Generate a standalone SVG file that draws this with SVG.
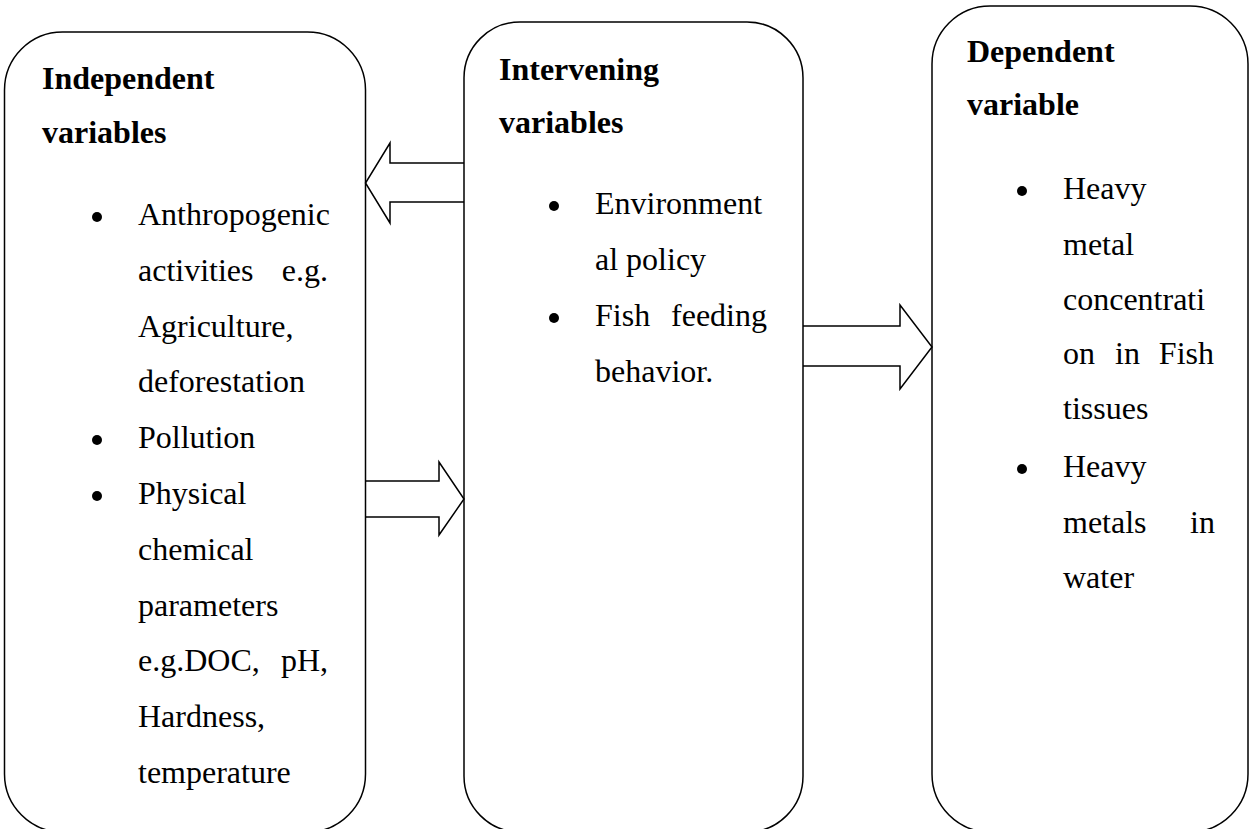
<svg xmlns="http://www.w3.org/2000/svg" width="1249" height="829" viewBox="0 0 1249 829">
<style>
.box{fill:none;stroke:#000;stroke-width:1.5}
.arr{fill:#fff;stroke:#000;stroke-width:1.5;stroke-linejoin:miter}
.h{font-family:"Liberation Serif","Times New Roman",serif;font-weight:bold;font-size:32px;fill:#000}
.t{font-family:"Liberation Serif","Times New Roman",serif;font-size:32px;fill:#000}
.e{text-anchor:end}
.b{fill:#000}
</style>
<rect width="1249" height="829" fill="#fff"/>
<g id="connectors">
<path class="arr" d="M464,163 L390,163 L390,143 L365.5,183 L390,223 L390,202 L464,202"/>
<path class="arr" d="M365.5,481 L439,481 L439,462 L464,499 L439,535 L439,517 L365.5,517"/>
<path class="arr" d="M803,326 L900,326 L900,305 L932,347 L900,389 L900,366 L803,366"/>
</g>
<g id="independent">
<rect class="box" x="4.5" y="32" width="361" height="800" rx="58" ry="58"/>
<text class="h" x="42" y="89">Independent</text>
<text class="h" x="42" y="143">variables</text>
<circle class="b" cx="97" cy="217" r="5"/>
<text class="t" x="138" y="225">Anthropogenic</text>
<text class="t" x="138" y="281">activities</text>
<text class="t e" x="328" y="281">e.g.</text>
<text class="t" x="138" y="337">Agriculture,</text>
<text class="t" x="138" y="392">deforestation</text>
<circle class="b" cx="97" cy="440" r="5"/>
<text class="t" x="138" y="448">Pollution</text>
<circle class="b" cx="97" cy="496" r="5"/>
<text class="t" x="138" y="504">Physical</text>
<text class="t" x="138" y="560">chemical</text>
<text class="t" x="138" y="616">parameters</text>
<text class="t" x="138" y="671">e.g.DOC,</text>
<text class="t e" x="328" y="671">pH,</text>
<text class="t" x="138" y="727">Hardness,</text>
<text class="t" x="138" y="783">temperature</text>
</g>
<g id="intervening">
<rect class="box" x="464" y="22" width="339" height="810" rx="56" ry="56"/>
<text class="h" x="499" y="80">Intervening</text>
<text class="h" x="499" y="133">variables</text>
<circle class="b" cx="554" cy="206" r="5"/>
<text class="t" x="595" y="214">Environment</text>
<text class="t" x="595" y="270">al policy</text>
<circle class="b" cx="554" cy="318" r="5"/>
<text class="t" x="595" y="326">Fish</text>
<text class="t e" x="767" y="326">feeding</text>
<text class="t" x="595" y="382">behavior.</text>
</g>
<g id="dependent">
<rect class="box" x="932" y="6" width="316" height="826" rx="58" ry="58"/>
<text class="h" x="967" y="62">Dependent</text>
<text class="h" x="967" y="115">variable</text>
<circle class="b" cx="1022" cy="191" r="5"/>
<text class="t" x="1063" y="199">Heavy</text>
<text class="t" x="1063" y="255">metal</text>
<text class="t" x="1063" y="310">concentrati</text>
<text class="t" x="1063" y="364">on</text>
<text class="t" x="1115" y="364">in</text>
<text class="t e" x="1214" y="364">Fish</text>
<text class="t" x="1063" y="419">tissues</text>
<circle class="b" cx="1022" cy="469" r="5"/>
<text class="t" x="1063" y="477">Heavy</text>
<text class="t" x="1063" y="533">metals</text>
<text class="t e" x="1215" y="533">in</text>
<text class="t" x="1063" y="588">water</text>
</g>
</svg>
